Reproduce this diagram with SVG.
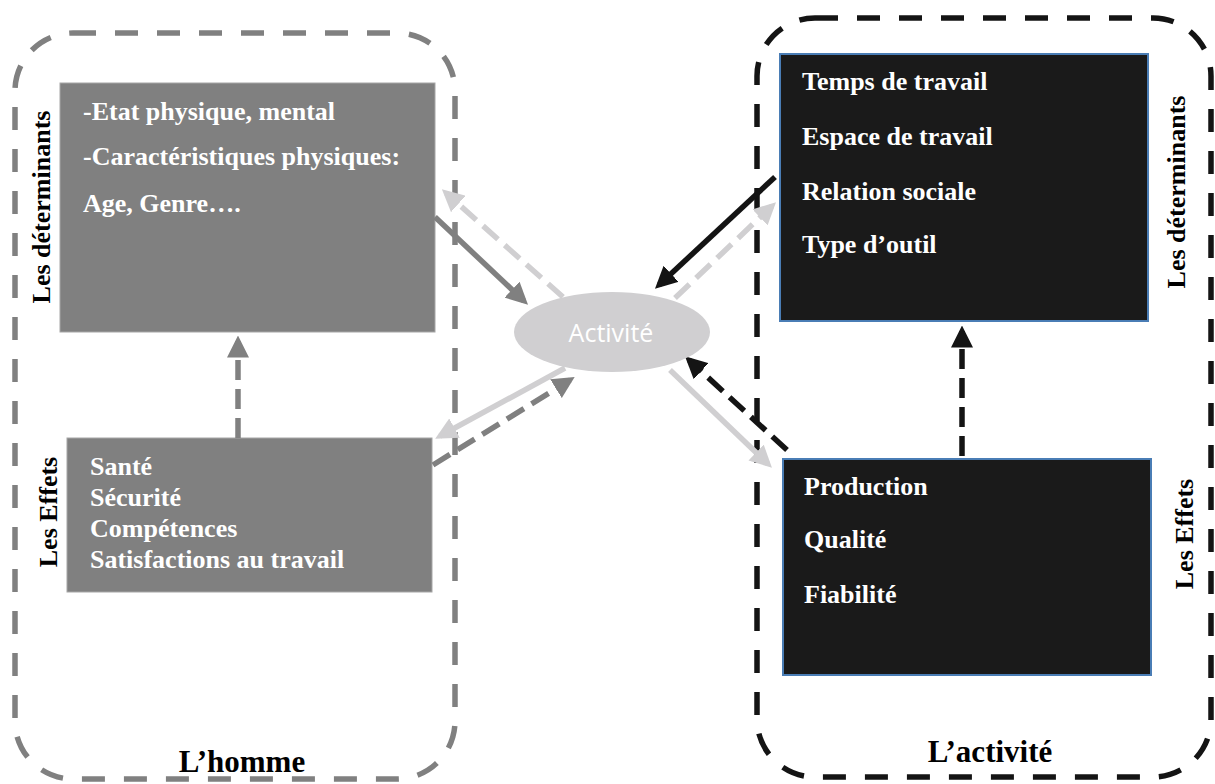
<svg xmlns="http://www.w3.org/2000/svg" width="1215" height="784" viewBox="0 0 1215 784">
  <style>
    .serif { font-family: "Liberation Serif", "Times New Roman", serif; font-weight: bold; }
    .boxtxt { font-size: 26px; fill: #ffffff; }
    .side { font-size: 26px; fill: #000000; text-anchor: middle; }
    .title { font-size: 31px; fill: #000000; text-anchor: middle; }
    .frame { fill: none; stroke-width: 5.5; stroke-dasharray: 23 19; }
    .conn { fill: none; stroke-width: 5.5; stroke-linecap: butt; }
    .dash { stroke-dasharray: 20 9; }
  </style>
  <defs>
    <marker id="headGray" markerUnits="userSpaceOnUse" markerWidth="22" markerHeight="22" viewBox="0 0 20 20" refX="15" refY="10" orient="auto">
      <path d="M0,0 L20,10 L0,20 z" fill="#808080"/>
    </marker>
    <marker id="headLight" markerUnits="userSpaceOnUse" markerWidth="22" markerHeight="22" viewBox="0 0 20 20" refX="15" refY="10" orient="auto">
      <path d="M0,0 L20,10 L0,20 z" fill="#d0cfd1"/>
    </marker>
    <marker id="headBlack" markerUnits="userSpaceOnUse" markerWidth="22" markerHeight="22" viewBox="0 0 20 20" refX="15" refY="10" orient="auto">
      <path d="M0,0 L20,10 L0,20 z" fill="#141414"/>
    </marker>
  </defs>

  <rect width="1215" height="784" fill="#ffffff"/>

  <!-- Container: L'homme -->
  <g id="homme">
    <rect class="frame" x="15" y="33" width="440" height="746" rx="58" ry="58" stroke="#808080"/>
    <text class="serif title" x="242" y="772">L’homme</text>
  </g>

  <!-- Container: L'activité -->
  <g id="activite-cadre">
    <rect class="frame" x="757" y="18" width="454" height="759" rx="58" ry="58" stroke="#141414"/>
    <text class="serif title" x="990" y="762">L’activité</text>
  </g>

  <!-- Human determinants -->
  <g id="homme-determinants">
    <rect x="60" y="83" width="375" height="249" fill="#808080" stroke="#a6a6a6" stroke-width="1"/>
    <text class="serif boxtxt" x="83" y="120">-Etat physique, mental</text>
    <text class="serif boxtxt" x="83" y="165">-Caractéristiques physiques:</text>
    <text class="serif boxtxt" x="83" y="212">Age, Genre….</text>
    <text class="serif side" transform="translate(50 207) rotate(-90)">Les déterminants</text>
  </g>

  <!-- Human effects -->
  <g id="homme-effets">
    <rect x="67" y="438" width="365" height="154" fill="#808080" stroke="#a6a6a6" stroke-width="1"/>
    <text class="serif boxtxt" x="90" y="475">Santé</text>
    <text class="serif boxtxt" x="90" y="506">Sécurité</text>
    <text class="serif boxtxt" x="90" y="537">Compétences</text>
    <text class="serif boxtxt" x="90" y="568">Satisfactions au travail</text>
    <text class="serif side" transform="translate(57 512) rotate(-90)">Les Effets</text>
  </g>

  <!-- Activity determinants -->
  <g id="activite-determinants">
    <rect x="780" y="54" width="368" height="267" fill="#1a1a1a" stroke="#4a7db5" stroke-width="2"/>
    <text class="serif boxtxt" x="802" y="90">Temps de travail</text>
    <text class="serif boxtxt" x="802" y="145">Espace de travail</text>
    <text class="serif boxtxt" x="802" y="200">Relation sociale</text>
    <text class="serif boxtxt" x="802" y="253">Type d’outil</text>
    <text class="serif side" transform="translate(1185 192) rotate(-90)">Les déterminants</text>
  </g>

  <!-- Activity effects -->
  <g id="activite-effets">
    <rect x="783" y="459" width="368" height="216" fill="#1a1a1a" stroke="#4a7db5" stroke-width="2"/>
    <text class="serif boxtxt" x="804" y="495">Production</text>
    <text class="serif boxtxt" x="804" y="548">Qualité</text>
    <text class="serif boxtxt" x="804" y="603">Fiabilité</text>
    <text class="serif side" transform="translate(1193 534) rotate(-90)">Les Effets</text>
  </g>

  <!-- Connectors -->
  <g id="connecteurs">
    <line class="conn" x1="435" y1="217" x2="524" y2="301" stroke="#808080" marker-end="url(#headGray)"/>
    <line class="conn dash" x1="563" y1="297" x2="446" y2="193" stroke="#d0cfd1" marker-end="url(#headLight)"/>
    <line class="conn" x1="565" y1="368" x2="440" y2="436" stroke="#d0cfd1" marker-end="url(#headLight)"/>
    <line class="conn dash" x1="433" y1="465" x2="570" y2="380" stroke="#808080" marker-end="url(#headGray)"/>
    <line class="conn" x1="775" y1="177" x2="659" y2="285" stroke="#141414" marker-end="url(#headBlack)"/>
    <line class="conn dash" x1="675" y1="298" x2="772" y2="206" stroke="#d0cfd1" marker-end="url(#headLight)"/>
    <line class="conn" x1="670" y1="370" x2="768" y2="464" stroke="#d0cfd1" marker-end="url(#headLight)"/>
    <line class="conn dash" x1="787" y1="450" x2="689" y2="360" stroke="#141414" marker-end="url(#headBlack)"/>
    <line class="conn dash" x1="238" y1="438" x2="238" y2="341" stroke="#808080" stroke-width="8" marker-end="url(#headGray)"/>
    <line class="conn dash" x1="962" y1="456" x2="962" y2="331" stroke="#141414" stroke-width="8" marker-end="url(#headBlack)"/>
  </g>

  <!-- Central activity node -->
  <g id="activite">
    <ellipse cx="612" cy="332" rx="98" ry="40" fill="#d0cfd1"/>
    <text x="611" y="342" font-family="'Open Sans', 'Liberation Sans', sans-serif" font-size="25" fill="#ffffff" text-anchor="middle">Activité</text>
  </g>
</svg>
